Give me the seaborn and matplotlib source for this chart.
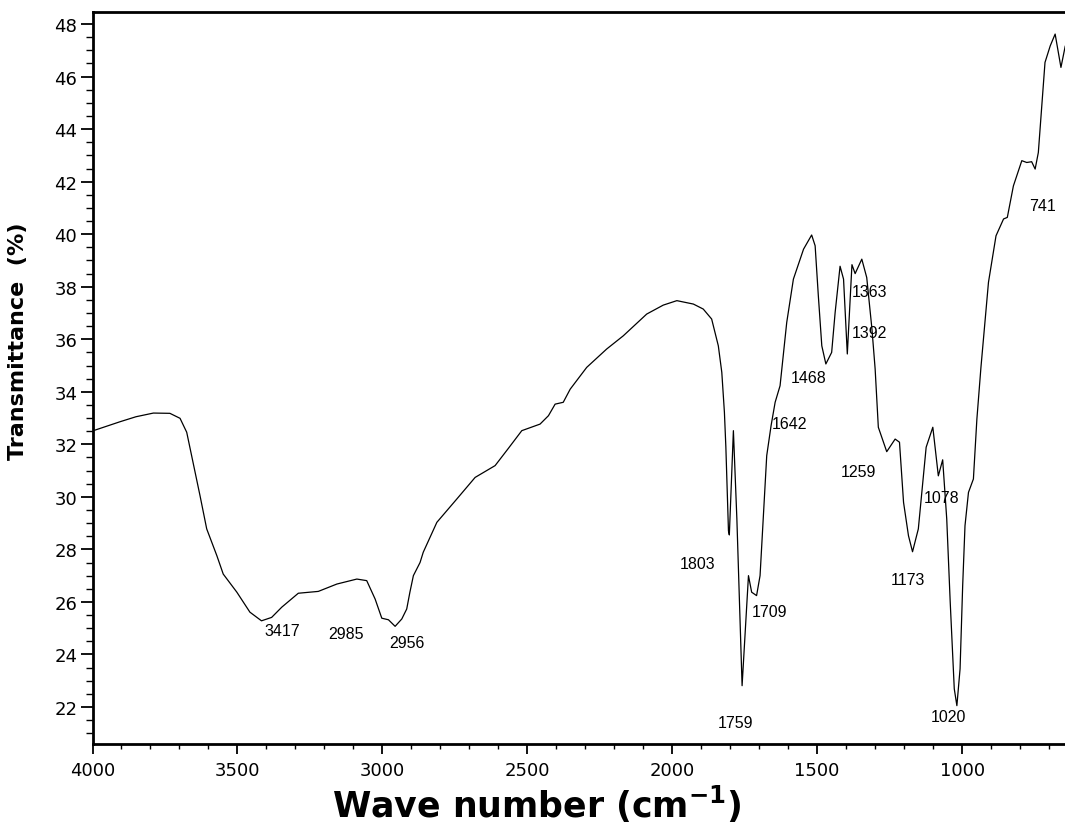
import numpy as np
import pandas as pd
import matplotlib
matplotlib.use("Agg")
import matplotlib.pyplot as plt
import seaborn as sns
from matplotlib.ticker import MultipleLocator

# FTIR spectrum (wavenumber in cm-1, transmittance in %)
wavenumber = [
    3997, 3905, 3850, 3790, 3733, 3698, 3675, 3658, 3629, 3606, 3571, 3549,
    3502, 3457, 3417, 3382, 3347, 3290, 3221, 3157, 3088, 3054, 3025, 3002,
    2979, 2956, 2933, 2916, 2905, 2893, 2870, 2859, 2812, 2743, 2680, 2611,
    2565, 2519, 2456, 2427, 2404, 2376, 2352, 2295, 2226, 2169, 2088, 2031,
    1984, 1927, 1893, 1864, 1841, 1829, 1820, 1815, 1806, 1803, 1789, 1777,
    1766, 1759, 1749, 1737, 1726, 1709, 1697, 1685, 1674, 1659, 1645, 1628,
    1605, 1582, 1547, 1519, 1507, 1496, 1484, 1470, 1450, 1438, 1421, 1409,
    1396, 1380, 1369, 1346, 1329, 1311, 1300, 1289, 1260, 1231, 1216, 1202,
    1185, 1171, 1151, 1124, 1101, 1082, 1067, 1053, 1041, 1027, 1018, 1007,
    998, 990, 978, 961, 949, 935, 909, 883, 857, 844, 823, 794,
    777, 760, 748, 737, 714, 696, 679, 659, 644,
]
transmittance = [
    32.52, 32.86, 33.05, 33.19, 33.18, 32.99, 32.46, 31.57, 30.04, 28.78, 27.76, 27.06,
    26.37, 25.61, 25.28, 25.41, 25.80, 26.33, 26.40, 26.68, 26.87, 26.81, 26.11, 25.38,
    25.32, 25.07, 25.35, 25.73, 26.37, 27.00, 27.50, 27.89, 29.03, 29.92, 30.74, 31.19,
    31.85, 32.52, 32.77, 33.09, 33.53, 33.60, 34.10, 34.93, 35.63, 36.13, 36.96, 37.30,
    37.47, 37.34, 37.15, 36.77, 35.75, 34.74, 33.22, 31.90, 28.70, 28.55, 32.52, 29.16,
    25.35, 22.81, 24.71, 27.00, 26.37, 26.24, 27.00, 29.41, 31.57, 32.71, 33.60, 34.23,
    36.64, 38.29, 39.43, 39.97, 39.56, 37.66, 35.75, 35.06, 35.50, 37.02, 38.78, 38.29,
    35.44, 38.84, 38.50, 39.05, 38.35, 36.39, 34.87, 32.65, 31.72, 32.20, 32.08, 29.79,
    28.52, 27.91, 28.78, 31.89, 32.65, 30.80, 31.41, 29.16, 25.99, 22.69, 22.05, 23.45,
    26.62, 28.90, 30.17, 30.68, 32.96, 34.93, 38.17, 39.94, 40.58, 40.64, 41.84, 42.80,
    42.73, 42.76, 42.48, 43.11, 46.54, 47.17, 47.62, 46.35, 47.17,
]

# peak labels and where their text sits
peak_labels = ["3417", "2985", "2956", "1803", "1759", "1709", "1642", "1468",
               "1392", "1363", "1259", "1173", "1078", "1020", "741"]
label_x = [3346, 3125, 2915, 1911, 1783, 1666, 1597, 1528,
           1321, 1321, 1359, 1186, 1072, 1048, 724]
label_y = [24.90, 24.80, 24.44, 27.48, 21.39, 25.65, 32.81, 34.56,
           36.24, 37.80, 30.98, 26.87, 29.96, 21.62, 41.11]

df = pd.DataFrame({"wavenumber": wavenumber, "transmittance": transmittance})

sns.set_style("ticks")
plt.rcParams["font.family"] = ["DejaVu Sans"]
plt.rcParams["text.color"] = "black"
plt.rcParams["axes.labelcolor"] = "black"
plt.rcParams["xtick.color"] = "black"
plt.rcParams["ytick.color"] = "black"

fig = plt.figure(figsize=(10.65, 8.28), dpi=100)
ax = fig.add_axes([92.5 / 1065, 1 - 745 / 828, (1065 - 92.5) / 1065, (745 - 13) / 828])

sns.lineplot(data=df, x="wavenumber", y="transmittance", sort=False,
             color="black", linewidth=0.9, ax=ax)

ax.set_xlim(4000, 645)
ax.set_ylim(20.59, 48.46)

ax.xaxis.set_major_locator(MultipleLocator(500))
ax.xaxis.set_minor_locator(MultipleLocator(100))
ax.yaxis.set_major_locator(MultipleLocator(2))
ax.yaxis.set_minor_locator(MultipleLocator(0.5))

ax.tick_params(axis="x", which="major", direction="out", length=7, width=1.3,
               labelsize=13, pad=5, top=False, colors="black")
ax.tick_params(axis="x", which="minor", direction="out", length=3.5, width=1.0, top=False)
ax.tick_params(axis="y", which="major", direction="out", length=9, width=1.3,
               labelsize=13, pad=2, right=False, colors="black")
ax.tick_params(axis="y", which="minor", direction="out", length=5, width=1.0, right=False)

for side in ["left", "bottom", "top"]:
    ax.spines[side].set_linewidth(2)
    ax.spines[side].set_color("black")
ax.spines["right"].set_visible(False)

for txt, x, y in zip(peak_labels, label_x, label_y):
    ax.text(x, y, txt, ha="center", va="center", fontsize=11.5,
            family=["Liberation Sans", "DejaVu Sans"], color="black")

ax.set_xlabel(r"Wave number (cm$^{\mathbf{-1}}$)", fontsize=25, fontweight="bold",
              color="black")
ax.set_ylabel("Transmittance  (%)", fontsize=16, fontweight="bold", color="black")
ax.xaxis.set_label_coords(0.457, -0.053)
ax.yaxis.set_label_coords(-0.0663, 0.552)

fig.savefig("out.png", dpi=100)
